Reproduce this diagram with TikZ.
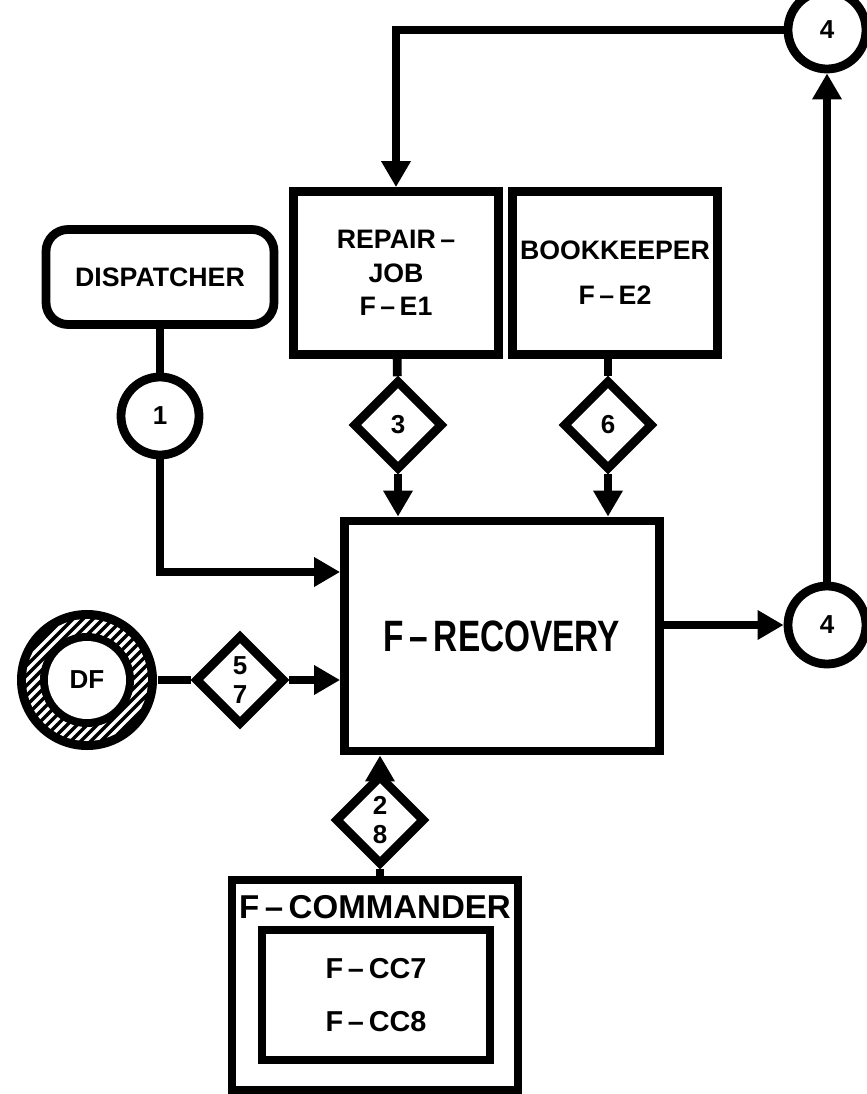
\documentclass[tikz,border=0pt]{standalone}
\usepackage{fontspec}
\setmainfont{Liberation Sans}
\usetikzlibrary{arrows.meta,shapes.geometric,calc}

\tikzset{
  flow/.style={line width=2.5pt},
  feed/.style={flow,-{Triangle[length=2.6mm,width=2.8mm]}},
  unit/.style={draw,line width=2.5pt,align=center,inner sep=0pt,
    font=\fontsize{7.6}{9.6}\selectfont\bfseries},
  gate/.style={diamond,draw,line width=2.5pt,minimum size=0.9cm,inner sep=0pt,
    align=center,font=\fontsize{7.4}{8.5}\selectfont\bfseries},
  link/.style={circle,draw,line width=2.5pt,minimum size=0.78cm,inner sep=0pt,
    font=\fontsize{7.4}{8}\selectfont\bfseries},
}

\begin{document}
\begin{tikzpicture}
  \useasboundingbox (0,0) rectangle (8.67,-10.94);

  % actors
  \node[unit,rounded corners=0.22cm,minimum width=2.28cm,minimum height=0.95cm]
    (disp) at (1.60,-2.77) {DISPATCHER};
  \node[unit,minimum width=2.05cm,minimum height=1.63cm]
    (rj) at (3.96,-2.73) {REPAIR\,–\\JOB\\F\,–\,E1};
  \node[unit,minimum width=2.05cm,minimum height=1.63cm]
    (bk) at (6.15,-2.73) {BOOKKEEPER\\[1.1mm]F\,–\,E2};
  \node[unit,minimum width=3.15cm,minimum height=2.30cm,
    font=\fontsize{12.5}{14}\selectfont\bfseries]
    (rec) at (5.02,-6.36) {\scalebox{0.76}[1]{F\,–\,RECOVERY}};

  % commander with its inner block
  \node[unit,minimum width=2.86cm,minimum height=2.10cm] (cmd) at (3.75,-9.85) {};
  \node[font=\fontsize{9.4}{10}\selectfont\bfseries] (cmdlbl) at (3.75,-9.07) {F\,–\,COMMANDER};
  \node[unit,minimum width=2.28cm,minimum height=1.30cm,
    font=\fontsize{8.2}{9.6}\selectfont\bfseries]
    (cc) at (3.76,-9.95) {F\,–\,CC7\\[2.0mm]F\,–\,CC8};

  % message gates and links
  \node[link] (c1) at (1.60,-4.16) {1};
  \node[gate] (d3) at (3.98,-4.25) {3};
  \node[gate] (d6) at (6.08,-4.25) {6};
  \node[gate] (d57) at (2.40,-6.80) {5\\7};
  \node[gate] (d28) at (3.80,-8.20) {2\\8};
  \node[link] (c4b) at (8.27,-6.25) {4};
  \node[link] (c4a) at (8.27,-0.30) {4};

  % data file ring, hatched band
  \coordinate (dfc) at (0.87,-6.80);
  \fill (dfc) circle (0.70);
  \begin{scope}
    \clip (dfc) circle (0.61);
    \foreach \k in {-16,...,16}
      \draw[white,line width=0.35mm] ($(dfc)+(\k*0.1-0.8,-0.8)$) -- ++(1.6,1.6);
  \end{scope}
  \fill (dfc) circle (0.47);
  \fill[white] (dfc) circle (0.39);
  \node[circle,minimum size=1.4cm,inner sep=0pt,
    font=\fontsize{7.4}{8}\selectfont\bfseries] (df) at (dfc) {DF};

  % connectors
  \draw[flow] (disp) -- (c1);
  \draw[feed] (c1) |- (rec.west |- 0,-5.72);
  \draw[flow] (rj) -- (d3);
  \draw[feed] (d3) -- (d3 |- rec.north);
  \draw[flow] (bk.south -| d6) -- (d6);
  \draw[feed] (d6) -- (d6 |- rec.north);
  \draw[flow] (df) -- (d57);
  \draw[feed] (d57) -- (d57 -| rec.west);
  \draw[flow] (cmd.north -| d28) -- (d28);
  \draw[feed] (d28) -- (d28 |- rec.south);
  \draw[feed] (rec.east |- c4b) -- (c4b);
  \draw[feed] (c4b) -- (c4a);
  \draw[feed] (c4a) -| (rj.north);
\end{tikzpicture}
\end{document}
